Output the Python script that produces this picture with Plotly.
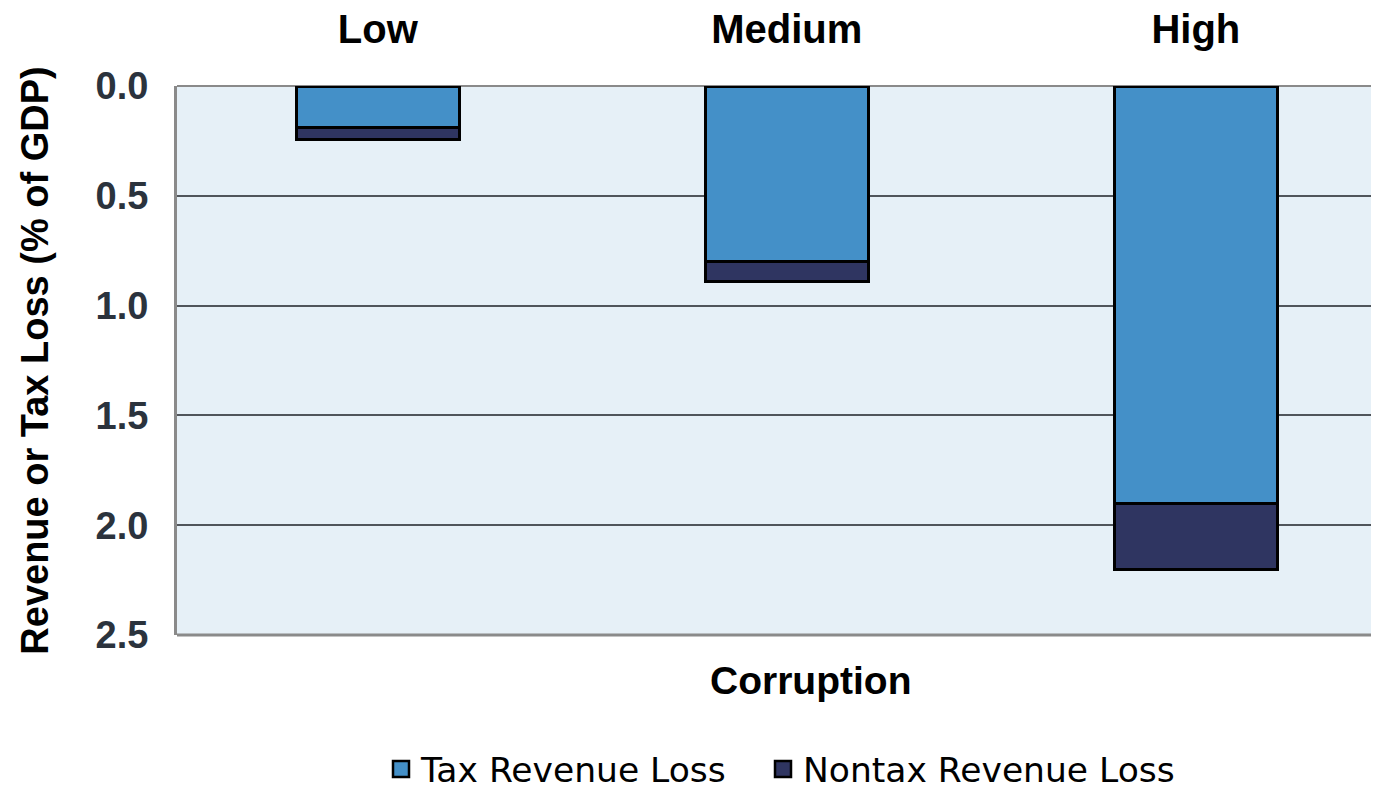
import plotly.graph_objects as go

categories = ["Low", "Medium", "High"]
tax_loss = [0.19, 0.80, 1.90]
nontax_loss = [0.055, 0.09, 0.30]
y_ticks = [0.0, 0.5, 1.0, 1.5, 2.0, 2.5]
y_tick_labels = ["0.0", "0.5", "1.0", "1.5", "2.0", "2.5"]
series_names = ["Tax Revenue Loss", "Nontax Revenue Loss"]
series_colors = ["#4490c8", "#2f3561"]

FONT = "Liberation Sans, Arial, sans-serif"
LEG_FONT = "DejaVu Sans, Liberation Sans, sans-serif"

fig = go.Figure()
for vals, name, col in zip([tax_loss, nontax_loss], series_names, series_colors):
    fig.add_trace(go.Bar(
        x=categories, y=vals, name=name, showlegend=False,
        marker=dict(color=col, line=dict(color="black", width=3)),
        width=0.4,
    ))
# legend entries with larger square symbols, one legend box each
legend_ids = ["legend", "legend2"]
for name, col, lid in zip(series_names, series_colors, legend_ids):
    fig.add_trace(go.Scatter(
        x=[None], y=[None], mode="markers", name=name, legend=lid,
        marker=dict(symbol="square", size=18, color=col,
                    line=dict(color="black", width=2.5)),
    ))

# the page body adds an 8px offset; plot area runs past the right edge
W, H = 1390, 784
L, R, T, B = 169, 0, 78, 157
plot_h = H - T - B
plot_w = W - L - R
CAT_STEP = 409.0  # px between category centres
x_lo = -0.491
x_hi = x_lo + plot_w / CAT_STEP

def px_to_paper_x(px):
    return (px - 177) / plot_w

leg_y = (635 - 769) / plot_h
leg_common = dict(
    orientation="h", xanchor="left", y=leg_y, yanchor="middle",
    font=dict(size=34.5, color="black", family=LEG_FONT),
    itemwidth=30, bgcolor="rgba(0,0,0,0)", itemsizing="trace",
)

fig.update_layout(
    barmode="stack",
    width=W, height=H,
    margin=dict(l=L, r=R, t=T, b=B, autoexpand=False),
    paper_bgcolor="white",
    plot_bgcolor="#e6f0f7",
    font=dict(family=FONT, color="black"),
    showlegend=True,
    legend=dict(x=px_to_paper_x(381), **leg_common),
    legend2=dict(x=px_to_paper_x(763), **leg_common),
    xaxis=dict(
        side="top", type="category",
        range=[x_lo, x_hi],
        tickfont=dict(size=40, color="black", family=FONT),
        tickprefix="<b>", ticksuffix="</b>",
        showline=False, showgrid=False, ticks="",
        ticklabelstandoff=34, automargin=False,
    ),
    yaxis=dict(
        autorange=False, range=[2.5, 0],
        tickvals=y_ticks, ticktext=["<b>%s</b>" % t for t in y_tick_labels],
        tickfont=dict(size=38, color="#2b333d", family=FONT),
        showgrid=True, gridcolor="#50555b", gridwidth=1.5,
        showline=True, linecolor="#8a8a8a", linewidth=3, mirror=False,
        zeroline=False, ticks="",
        ticklabelstandoff=18, automargin=False,
        title=dict(text="<b>Revenue or Tax Loss (% of GDP)</b>",
                   font=dict(size=38, color="black", family=FONT), standoff=36),
    ),
    annotations=[dict(
        text="<b>Corruption</b>", xref="paper", yref="paper",
        x=px_to_paper_x(810), y=(635 - 680) / plot_h,
        xanchor="center", yanchor="middle",
        showarrow=False, font=dict(size=39, color="black", family=FONT),
    )],
)

fig.add_shape(type="line", xref="paper", yref="paper", x0=0, x1=1, y0=0, y1=0,
              line=dict(color="#8a8a8a", width=3), layer="above")
fig.add_shape(type="line", xref="paper", yref="paper", x0=0, x1=1, y0=1, y1=1,
              line=dict(color="#8a8a8a", width=2), layer="below")

fig.write_html("out.html")
